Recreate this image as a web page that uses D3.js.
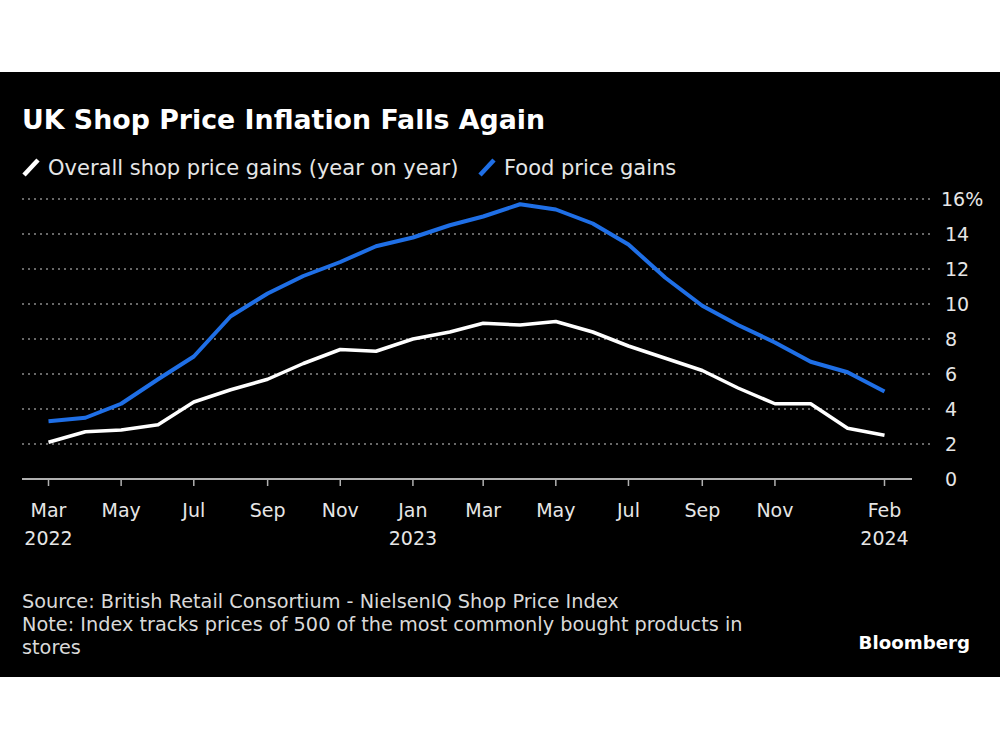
<!DOCTYPE html>
<html>
<head>
<meta charset="utf-8">
<script src="https://cdn.jsdelivr.net/npm/d3@7"></script>
<style>
  html, body { margin: 0; padding: 0; background: #fff; }
  svg { display: block; }
  text { font-family: "DejaVu Sans", sans-serif; }
</style>
</head>
<body>
<script>
// ---- data ----
const months = ["2022-03","2022-04","2022-05","2022-06","2022-07","2022-08","2022-09","2022-10","2022-11","2022-12",
  "2023-01","2023-02","2023-03","2023-04","2023-05","2023-06","2023-07","2023-08","2023-09","2023-10","2023-11","2023-12",
  "2024-01","2024-02"];
const overall = [2.1,2.7,2.8,3.1,4.4,5.1,5.7,6.6,7.4,7.3,8.0,8.4,8.9,8.8,9.0,8.4,7.6,6.9,6.2,5.2,4.3,4.3,2.9,2.5];
const food = [3.3,3.5,4.3,5.7,7.0,9.3,10.6,11.6,12.4,13.3,13.8,14.5,15.0,15.7,15.4,14.6,13.4,11.5,9.9,8.8,7.8,6.7,6.1,5.0];
const xTicks = ["2022-03","2022-05","2022-07","2022-09","2022-11","2023-01","2023-03","2023-05","2023-07","2023-09","2023-11","2024-02"];
const xTickMonth = ["Mar","May","Jul","Sep","Nov","Jan","Mar","May","Jul","Sep","Nov","Feb"];
const xTickYear = ["2022","","","","","2023","","","","","","2024"];
const yTicks = [0,2,4,6,8,10,12,14,16];
const seriesNames = ["Overall shop price gains (year on year)", "Food price gains"];
const seriesColors = ["#ffffff", "#1f6fe6"];

const W = 1000, H = 750;
const parse = d3.timeParse("%Y-%m");
const svg = d3.select("body").append("svg").attr("width", W).attr("height", H);

svg.append("rect").attr("x", 0).attr("y", 72).attr("width", W).attr("height", 605).attr("fill", "#000");

const x = d3.scaleTime().domain([parse(months[0]), parse(months[months.length-1])]).range([48.5, 884.5]);
const y = d3.scaleLinear().domain([0, 16]).range([479, 199]);

// gridlines
svg.append("g").selectAll("line").data(yTicks.filter(d => d > 0)).join("line")
  .attr("x1", 22).attr("x2", 930)
  .attr("y1", d => y(d)).attr("y2", d => y(d))
  .attr("stroke", "#8a8a8a").attr("stroke-width", 1.5).attr("stroke-dasharray", "2,4");

// y labels
svg.append("g").selectAll("text").data(yTicks).join("text")
  .attr("x", d => d === 16 ? 941 : 945)
  .attr("y", d => y(d)).attr("dy", "0.36em")
  .attr("fill", "#e6e6e6").attr("font-size", 19)
  .text(d => d === 16 ? "16%" : d);

// baseline
svg.append("line").attr("x1", 22).attr("x2", 912).attr("y1", y(0)).attr("y2", y(0))
  .attr("stroke", "#b0b0b0").attr("stroke-width", 2);

// x ticks
const xt = svg.append("g").selectAll("g").data(xTicks).join("g")
  .attr("transform", d => `translate(${x(parse(d))},${y(0)})`);
xt.append("line").attr("y1", 0).attr("y2", 7).attr("stroke", "#b0b0b0").attr("stroke-width", 1.5);
xt.append("text").attr("y", 38).attr("text-anchor", "middle").attr("fill", "#e6e6e6").attr("font-size", 19)
  .text((d, i) => xTickMonth[i]);
xt.append("text").attr("y", 66).attr("text-anchor", "middle").attr("fill", "#e6e6e6").attr("font-size", 19)
  .text((d, i) => xTickYear[i]);

// lines
const line = d3.line().x((d, i) => x(parse(months[i]))).y(d => y(d));
svg.append("path").datum(overall).attr("d", line).attr("fill", "none")
  .attr("stroke", seriesColors[0]).attr("stroke-width", 3.5).attr("stroke-linejoin", "round");
svg.append("path").datum(food).attr("d", line).attr("fill", "none")
  .attr("stroke", seriesColors[1]).attr("stroke-width", 4).attr("stroke-linejoin", "round");

// title
svg.append("text").attr("x", 22).attr("y", 129).attr("fill", "#fff").attr("font-size", 26.8)
  .attr("font-weight", "bold").text("UK Shop Price Inflation Falls Again");

// legend
const legX = [22, 478];
seriesNames.forEach((name, i) => {
  const g = svg.append("g").attr("transform", `translate(${legX[i]},167)`);
  g.append("line").attr("x1", 2).attr("y1", 8).attr("x2", 16).attr("y2", -7)
    .attr("stroke", seriesColors[i]).attr("stroke-width", 4.5).attr("stroke-linecap", "butt");
  g.append("text").attr("x", 26).attr("y", 0).attr("dy", "0.36em").attr("fill", "#e6e6e6")
    .attr("font-size", 21).text(name);
});

// footer
const foot = ["Source: British Retail Consortium - NielsenIQ Shop Price Index",
  "Note: Index tracks prices of 500 of the most commonly bought products in",
  "stores"];
svg.append("g").selectAll("text").data(foot).join("text")
  .attr("x", 22).attr("y", (d, i) => 608 + i * 23)
  .attr("fill", "#d9d9d9").attr("font-size", 19.3).text(d => d);

svg.append("text").attr("x", 970).attr("y", 649).attr("text-anchor", "end")
  .attr("fill", "#fff").attr("font-size", 18.2).attr("font-weight", "bold").text("Bloomberg");
</script>
</body>
</html>
